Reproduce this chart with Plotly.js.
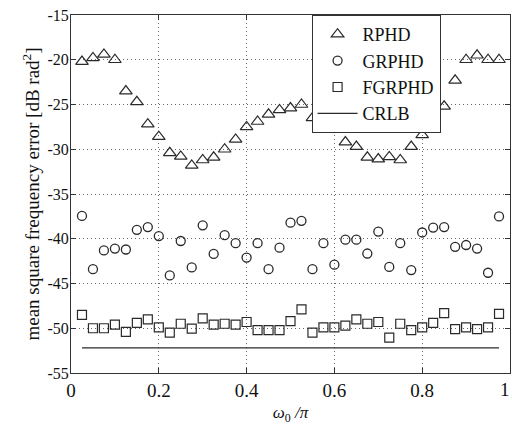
<!DOCTYPE html>
<html>
<head>
<meta charset="utf-8">
<script src="https://cdn.plot.ly/plotly-3.0.1.min.js"></script>
<style>
html,body{margin:0;padding:0;background:#fff;}
#chart{width:512px;height:427px;}
</style>
</head>
<body>
<div id="chart"></div>
<script>
// normalized frequency omega_0 / pi
const omega = [0.025,0.05,0.075,0.1,0.125,0.15,0.175,0.2,0.225,0.25,0.275,0.3,0.325,0.35,0.375,0.4,0.425,0.45,0.475,0.5,
               0.525,0.55,0.575,0.6,0.625,0.65,0.675,0.7,0.725,0.75,0.775,0.8,0.825,0.85,0.875,0.9,0.925,0.95,0.975];

const rphd = [-20.2,-19.8,-19.4,-20.0,-23.5,-24.7,-27.2,-28.6,-30.4,-30.8,-31.8,-31.2,-30.9,-30.0,-28.9,-27.5,-26.9,-26.1,-25.6,-25.4,
              -25.0,-26.5,-27.1,-27.5,-29.2,-29.7,-30.9,-31.1,-30.85,-31.2,-29.7,-28.4,-27.2,-25.2,-22.3,-20.0,-19.5,-20.0,-20.0];

const grphd = [-37.45,-43.4,-41.3,-41.1,-41.2,-39.0,-38.7,-39.7,-44.1,-40.25,-43.2,-38.5,-41.7,-39.6,-40.5,-42.1,-40.5,-43.4,-41.0,-38.2,
               -38.0,-43.4,-40.5,-42.9,-40.1,-40.1,-41.65,-39.2,-43.15,-40.5,-43.5,-39.3,-38.75,-38.7,-40.9,-40.7,-41.1,-43.8,-37.5];

const fgrphd = [-48.5,-50.0,-50.0,-49.6,-50.4,-49.4,-49.0,-49.9,-50.5,-49.5,-50.05,-48.9,-49.6,-49.5,-49.6,-49.3,-50.2,-50.2,-50.2,-49.2,
                -47.9,-50.5,-49.9,-49.9,-49.7,-49.0,-49.5,-49.3,-51.05,-49.5,-50.2,-49.9,-49.4,-48.3,-50.1,-49.9,-50.1,-49.9,-48.4];

const crlb = [-52.2,-52.2,-52.2,-52.2,-52.2,-52.2,-52.2,-52.2,-52.2,-52.2,-52.2,-52.2,-52.2,-52.2,-52.2,-52.2,-52.2,-52.2,-52.2,-52.2,
              -52.2,-52.2,-52.2,-52.2,-52.2,-52.2,-52.2,-52.2,-52.2,-52.2,-52.2,-52.2,-52.2,-52.2,-52.2,-52.2,-52.2,-52.2,-52.2];

const xTicks = [0, 0.2, 0.4, 0.6, 0.8, 1];
const xTickText = ['0', '0.2', '0.4', '0.6', '0.8', '1'];
const yTicks = [-55, -50, -45, -40, -35, -30, -25, -20, -15];
const yTickText = ['-55', '-50', '-45', '-40', '-35', '-30', '-25', '-20', '-15'];

const serif = "'Liberation Serif', 'Times New Roman', serif";
const ink = '#2a2a2a';

const traces = [
  {x: omega, y: rphd, name: 'RPHD', type: 'scatter', mode: 'markers',
   marker: {symbol: 'triangle-up-open', size: 11, color: ink, line: {width: 1.2, color: ink}}},
  {x: omega, y: grphd, name: 'GRPHD', type: 'scatter', mode: 'markers',
   marker: {symbol: 'circle-open', size: 9, color: ink, line: {width: 1.3, color: ink}}},
  {x: omega, y: fgrphd, name: 'FGRPHD', type: 'scatter', mode: 'markers',
   marker: {symbol: 'square-open', size: 9, color: ink, line: {width: 1.2, color: ink}}},
  {x: omega, y: crlb, name: 'CRLB', type: 'scatter', mode: 'lines',
   line: {color: ink, width: 1.2}}
];

const axisCommon = {
  showline: true, linecolor: '#333', linewidth: 1, mirror: 'ticks',
  ticks: 'inside', ticklen: 5, tickcolor: '#333', tickwidth: 1,
  showgrid: true, gridcolor: '#666', griddash: '1px,3px', gridwidth: 1,
  zeroline: false
};

// last x tick label is drawn right-aligned so it stays inside the picture
const lastIdx = xTicks.length - 1;
const xLabelsShown = xTickText.map((t, i) => (i === lastIdx ? '' : t));

const layout = {
  width: 512, height: 427,
  margin: {l: 71, r: 2, t: 15, b: 54},
  paper_bgcolor: '#fff', plot_bgcolor: '#fff',
  font: {family: serif, color: '#111'},
  showlegend: true,
  legend: {
    x: 0.548, y: 1, xanchor: 'left', yanchor: 'top',
    bgcolor: '#fff', bordercolor: '#333', borderwidth: 1,
    font: {family: serif, size: 18, color: '#111'},
    itemwidth: 40
  },
  xaxis: Object.assign({}, axisCommon, {
    range: [0, 1], tickmode: 'array', tickvals: xTicks, ticktext: xLabelsShown,
    tickfont: {family: serif, size: 19, color: '#111'},
    ticklabelstandoff: 0,
    title: {text: '<i>ω</i><sub>0</sub><i> /π</i>', font: {family: serif, size: 17, color: '#111'}, standoff: 6}
  }),
  yaxis: Object.assign({}, axisCommon, {
    range: [-55, -15], tickmode: 'array', tickvals: yTicks, ticktext: yTickText,
    tickfont: {family: serif, size: 16, color: '#111'},
    ticklabelstandoff: -2,
    title: {text: 'mean square frequency error [dB rad<sup>2</sup>]', font: {family: serif, size: 19, color: '#111'}, standoff: 2}
  }),
  annotations: [{
    x: xTicks[lastIdx], xref: 'x', y: 0, yref: 'paper',
    xanchor: 'right', yanchor: 'top', xshift: 2, yshift: -4,
    text: xTickText[lastIdx], showarrow: false,
    font: {family: serif, size: 19, color: '#111'}
  }]
};

Plotly.newPlot('chart', traces, layout, {displayModeBar: false, staticPlot: true});
</script>
</body>
</html>
